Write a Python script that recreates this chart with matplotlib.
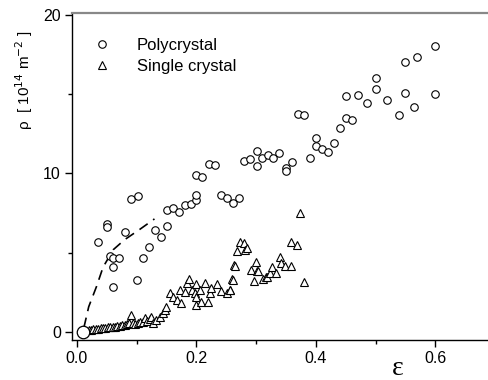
import matplotlib
matplotlib.use("Agg")
import matplotlib.pyplot as plt
from matplotlib.ticker import MultipleLocator

# =========================
# Data
# =========================

poly_x = [0.036, 0.050, 0.051, 0.056, 0.060, 0.060, 0.061, 0.071, 0.080, 0.090,
          0.101, 0.102, 0.111, 0.121, 0.131, 0.141, 0.151, 0.151, 0.161, 0.171,
          0.181, 0.191, 0.200, 0.200, 0.200, 0.210, 0.221, 0.231, 0.241, 0.251,
          0.261, 0.271, 0.280, 0.290, 0.301, 0.301, 0.310, 0.320, 0.329, 0.338,
          0.350, 0.350, 0.360, 0.370, 0.380, 0.390, 0.400, 0.400, 0.410, 0.420,
          0.430, 0.440, 0.450, 0.450, 0.460, 0.470, 0.485, 0.500, 0.500, 0.519,
          0.539, 0.549, 0.549, 0.564, 0.569, 0.600, 0.600]
poly_y = [5.68, 6.82, 6.65, 4.81, 4.09, 2.83, 4.70, 4.64, 6.28, 8.40,
          3.29, 8.60, 4.64, 5.34, 6.46, 6.00, 6.67, 7.68, 7.80, 7.59,
          8.02, 8.10, 8.29, 8.61, 9.90, 9.80, 10.60, 10.50, 8.61, 8.42,
          8.14, 8.46, 10.76, 10.89, 11.41, 10.46, 10.97, 11.14, 10.97, 11.31,
          10.36, 10.15, 10.74, 13.75, 13.69, 10.95, 12.20, 11.73, 11.56, 11.37,
          11.90, 12.85, 13.50, 14.89, 13.37, 14.96, 14.43, 15.99, 15.32, 14.60,
          13.69, 15.08, 17.03, 14.16, 17.32, 18.04, 15.00]

single_x = [0.020, 0.024, 0.028, 0.032, 0.036, 0.040, 0.044, 0.048, 0.052, 0.056,
            0.060, 0.064, 0.068, 0.072, 0.076, 0.080, 0.084, 0.088, 0.090, 0.094,
            0.098, 0.102, 0.106, 0.110, 0.114, 0.118, 0.122, 0.125, 0.128, 0.133,
            0.139, 0.144, 0.147, 0.150, 0.156, 0.161, 0.167, 0.172, 0.175, 0.181,
            0.185, 0.187, 0.192, 0.197, 0.200, 0.200, 0.200, 0.206, 0.208, 0.214,
            0.219, 0.223, 0.225, 0.234, 0.242, 0.251, 0.256, 0.257, 0.260, 0.261,
            0.263, 0.264, 0.268, 0.273, 0.279, 0.281, 0.284, 0.292, 0.296, 0.300,
            0.301, 0.303, 0.312, 0.316, 0.319, 0.323, 0.326, 0.334, 0.340, 0.341,
            0.348, 0.359, 0.359, 0.368, 0.373, 0.380]
single_y = [0.12, 0.15, 0.18, 0.20, 0.22, 0.24, 0.25, 0.28, 0.30, 0.32,
            0.30, 0.35, 0.38, 0.36, 0.42, 0.45, 0.50, 0.60, 1.10, 0.55,
            0.50, 0.58, 0.62, 0.65, 0.88, 0.70, 0.80, 0.97, 0.55, 0.76,
            0.97, 1.18, 1.39, 1.60, 2.45, 2.23, 2.03, 2.66, 1.82, 2.55,
            3.08, 3.35, 2.66, 2.49, 3.02, 2.23, 1.71, 2.66, 1.92, 3.12,
            1.92, 2.45, 2.77, 3.02, 2.59, 2.45, 2.66, 2.66, 3.35, 3.29,
            4.24, 4.18, 5.08, 5.65, 5.61, 5.15, 5.30, 3.92, 3.25, 4.39,
            3.82, 3.82, 3.35, 3.46, 3.50, 3.71, 4.13, 3.71, 4.76, 4.34,
            4.19, 4.19, 5.65, 5.51, 7.51, 3.18]

# big open circle sitting on the origin
origin_x = [0.010]
origin_y = [0.0]

# dashed guide curve
fit_x = [0.012, 0.020, 0.033, 0.044, 0.061, 0.080, 0.105, 0.130]
fit_y = [0.30, 1.60, 2.87, 4.09, 5.19, 5.82, 6.46, 7.13]

# =========================
# Figure
# =========================

plt.rcParams['font.family'] = ['Liberation Sans', 'DejaVu Sans']

fig = plt.figure(figsize=(4.88, 3.80), dpi=100)
ax = fig.add_axes([0.1475, 0.105, 0.8525, 0.861])

ax.plot(fit_x, fit_y, color='black', lw=1.2, ls=(0, (6, 4)))

ax.plot(poly_x, poly_y, ls='none', marker='o', ms=5.4, mfc='white',
        mec='black', mew=0.8, label='Polycrystal')
ax.plot(single_x, single_y, ls='none', marker='^', ms=6.3, mfc='white',
        mec='black', mew=0.8, label='Single crystal')
ax.plot(origin_x, origin_y, ls='none', marker='o', ms=9, mfc='white',
        mec='black', mew=0.9)

ax.set_xlim(-0.008, 0.688)
ax.set_ylim(-0.5, 20.1)

ax.xaxis.set_minor_locator(MultipleLocator(0.1))
ax.yaxis.set_minor_locator(MultipleLocator(5))
ax.set_xticks([0.0, 0.2, 0.4, 0.6])
ax.set_xticklabels(['0.0', '0.2', '0.4', '0.6'])
ax.set_yticks([0, 10, 20])
ax.set_yticklabels(['0', '10', '20'])

ax.tick_params(which='major', direction='out', length=5, width=1,
               labelsize=11.5, pad=3)
ax.tick_params(which='minor', direction='out', length=3, width=1)

ax.spines['right'].set_visible(False)
ax.spines['top'].set_color('#888888')
ax.spines['top'].set_linewidth(1.6)
ax.spines['left'].set_linewidth(1.0)
ax.spines['bottom'].set_linewidth(1.0)

ax.legend(loc='upper left', frameon=False, fontsize=12, handlelength=1.1,
          handletextpad=1.5, labelspacing=0.35,
          bbox_to_anchor=(0.015, 0.97))

fig.text(0.05, 0.79, r'ρ  [ 10$^{14}$ m$^{-2}$ ]', rotation=90,
         ha='center', va='center', fontsize=11)
fig.text(0.815, 0.03, 'ε', ha='center', va='center', fontsize=20,
         family=['Liberation Serif', 'DejaVu Serif'])

fig.savefig('out.png', dpi=100)
